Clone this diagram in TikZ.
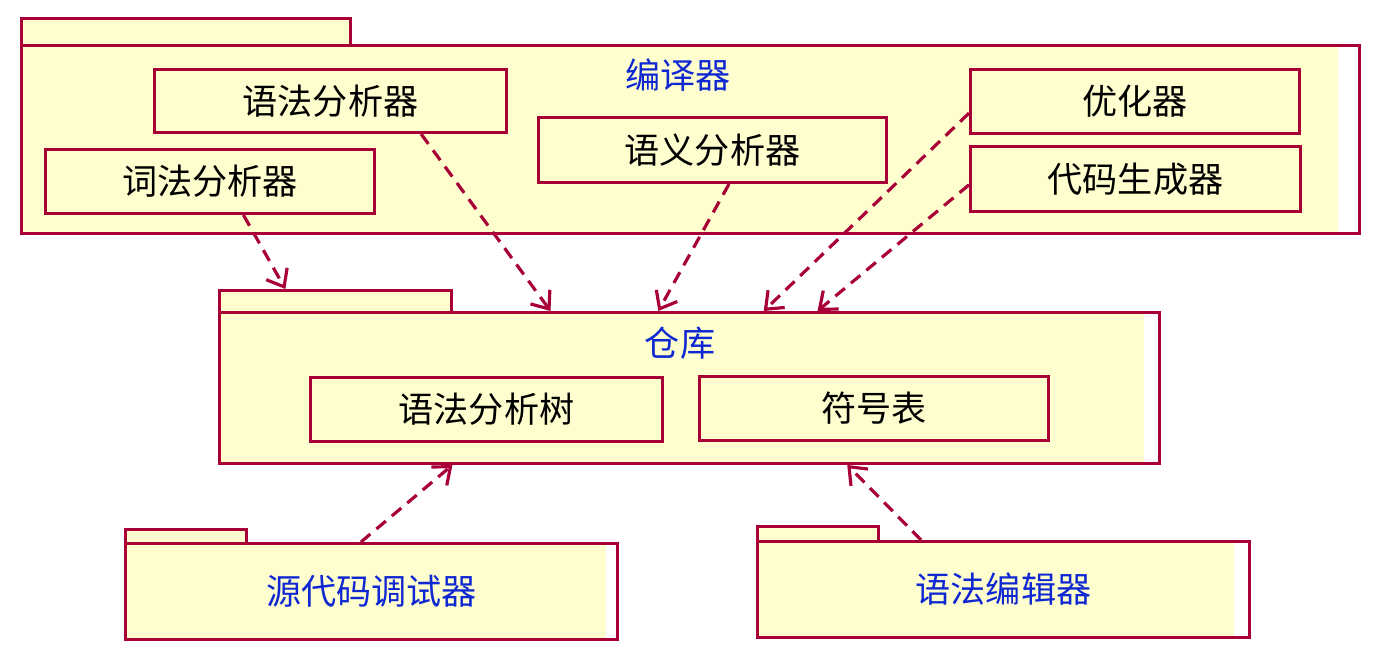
\documentclass[tikz,border=0pt]{standalone}
\usepackage{fontspec}
\setmainfont{Noto Sans CJK SC}
\usetikzlibrary{arrows.meta}
\definecolor{umlborder}{RGB}{168,0,54}
\definecolor{umlfill}{RGB}{254,254,206}
\definecolor{pkgtitle}{RGB}{16,40,210}

\begin{document}
\begin{tikzpicture}[x=0.02cm,y=-0.02cm,
		box/.style={draw=umlborder,fill=umlfill,line width=1.7pt,rectangle,anchor=north west,inner sep=0pt,font=\fontsize{20}{24}\selectfont},
		pkg/.style={box,path picture={\fill[white] ([xshift=-#1]path picture bounding box.north east) rectangle (path picture bounding box.south east);}},
		title/.style={text=pkgtitle,font=\fontsize{20}{24}\selectfont},
		dep/.style={draw=umlborder,line width=1.8pt,dash pattern=on 7pt off 4.5pt,-{Straight Barb[length=3mm,width=4.8mm]}}]
		\useasboundingbox (0,0) rectangle (1378,660);

		% compiler package
		\node[box,minimum width=6.58cm,minimum height=0.54cm] (compilertab) at (20,17) {};
		\node[pkg=0.42cm,minimum width=26.76cm,minimum height=3.76cm] (compiler) at (20,44) {};
		\node[title] (compilertitle) at (678,75) {编译器};
		\node[box,minimum width=7.04cm,minimum height=1.26cm] (parser) at (153,68) {语法分析器};
		\node[box,minimum width=6.58cm,minimum height=1.28cm] (lexer) at (44,148) {词法分析器};
		\node[box,minimum width=6.96cm,minimum height=1.30cm] (semantic) at (537,116) {语义分析器};
		\node[box,minimum width=6.58cm,minimum height=1.28cm] (optimizer) at (969,68) {优化器};
		\node[box,minimum width=6.60cm,minimum height=1.30cm] (codegen) at (969,145) {代码生成器};

		% repository package
		\node[box,minimum width=4.64cm,minimum height=0.44cm] (repotab) at (218,289) {};
		\node[pkg=0.3cm,minimum width=18.8cm,minimum height=3.02cm] (repo) at (218,311) {};
		\node[title] (repotitle) at (680,343) {仓库};
		\node[box,minimum width=7.04cm,minimum height=1.28cm] (tree) at (309,376) {语法分析树};
		\node[box,minimum width=6.98cm,minimum height=1.28cm] (symtab) at (698,375) {符号表};

		% tool packages
		\node[box,minimum width=2.42cm,minimum height=0.28cm] (debuggertab) at (124,528) {};
		\node[pkg=0.22cm,minimum width=9.84cm,minimum height=1.92cm,text=pkgtitle] (debugger) at (124,542) {源代码调试器};
		\node[box,minimum width=2.42cm,minimum height=0.30cm] (editortab) at (756,525) {};
		\node[pkg=0.3cm,minimum width=9.84cm,minimum height=1.92cm,text=pkgtitle] (editor) at (756,540) {语法编辑器};

		\path
			(lexer.-45) edge[dep] (repotab.166.5)
			(parser.-20) edge[dep] (repo.151)
			(semantic.-64) edge[dep] (repo.112)
			(optimizer.184) edge[dep] (repo.46)
			(codegen.182) edge[dep] (repo.31)
			(debugger.102) edge[dep] (repo.198.7)
			(editor.149) edge[dep] (repo.-26.7)
			;
	\end{tikzpicture}
\end{document}
